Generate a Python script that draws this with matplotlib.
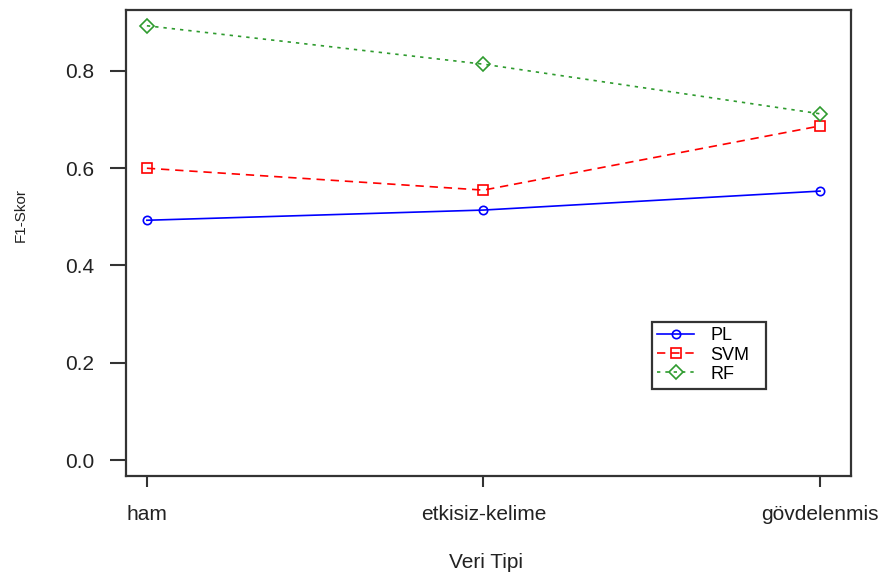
import matplotlib
matplotlib.use("Agg")
import matplotlib.pyplot as plt
from matplotlib.patches import Rectangle

categories = ["ham", "etkisiz-kelime", "gövdelenmis"]
pl_scores = [0.493, 0.514, 0.553]
svm_scores = [0.600, 0.555, 0.687]
rf_scores = [0.893, 0.814, 0.712]
y_ticks = [0.0, 0.2, 0.4, 0.6, 0.8]

plt.rcParams["font.family"] = ["Liberation Sans", "DejaVu Sans"]

W, H = 894, 576
fig = plt.figure(figsize=(W / 100, H / 100), dpi=100)
ax_left, ax_right, ax_top, ax_bottom = 126, 851, 10, 476
ax_w, ax_h = ax_right - ax_left, ax_bottom - ax_top
ax = fig.add_axes([ax_left / W, 1 - ax_bottom / H, ax_w / W, ax_h / H])

x = list(range(1, len(categories) + 1))
ax.plot(x, pl_scores, color="#0000ff", lw=1.2, ls="-", marker="o", ms=6,
        mfc="none", mec="#0000ff", mew=1.2, label="PL")
ax.plot(x, svm_scores, color="#ff0000", lw=1.2, ls=(0, (5, 3.5)), marker="s", ms=7,
        mfc="none", mec="#ff0000", mew=1.2, label="SVM")
ax.plot(x, rf_scores, color="#2e9b2e", lw=1.2, ls=(0, (2, 3)), marker="D", ms=7.5,
        mfc="none", mec="#2e9b2e", mew=1.2, label="RF")

ax.set_xlim(0.938, 3.092)
ax.set_ylim(-0.0329, 0.9254)
ax.set_xticks(x)
ax.set_xticklabels(categories)
ax.set_yticks(y_ticks)
ax.set_yticklabels([f"{v:.1f}" for v in y_ticks])

for s in ax.spines.values():
    s.set_color("#333333")
    s.set_linewidth(1.6)
ax.tick_params(axis="both", direction="out", width=1.5, color="#333333",
               labelsize=15, labelcolor="#222222")
ax.tick_params(axis="x", length=8, pad=13)
ax.tick_params(axis="y", length=11.5, pad=11.5)

ax.set_xlabel("Veri Tipi", fontsize=15, color="#222222")
ax.xaxis.set_label_coords(0.497, -0.166)
ax.set_ylabel("F1-Skor", fontsize=11, color="#222222")
ax.yaxis.set_label_coords(-0.1354, 0.56)

# legend box
box_l, box_r, box_t, box_b = 652, 766, 322, 389
ax.add_patch(Rectangle(((box_l - ax_left) / ax_w, 1 - (box_b - ax_top) / ax_h),
                       (box_r - box_l) / ax_w, (box_b - box_t) / ax_h,
                       transform=ax.transAxes, facecolor="white",
                       edgecolor="#333333", lw=1.6, zorder=4, clip_on=False))
leg = ax.legend(loc="upper left",
                bbox_to_anchor=((box_l - ax_left) / ax_w, 1 - (box_t - ax_top) / ax_h),
                fontsize=13, frameon=False, borderpad=0.3,
                handlelength=2.05, handletextpad=0.9, labelspacing=0.12,
                borderaxespad=0, numpoints=1)
leg.set_zorder(5)

fig.savefig("out.png", dpi=100)
